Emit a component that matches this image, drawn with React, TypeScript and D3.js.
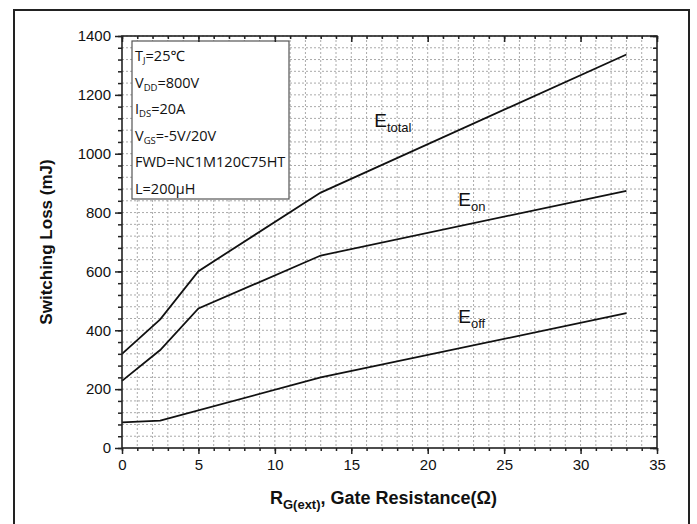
import { useEffect, useRef } from "react";
import * as d3 from "d3";

// gate resistance (ohm) and switching losses (mJ)
const rgTotal = [0, 2.5, 5, 13, 33];
const eTotal = [320, 437, 601, 868, 1337];
const rgOn = [0, 2.5, 5, 13, 33];
const eOn = [228, 333, 474, 654, 874];
const rgOff = [0, 2.5, 13, 33];
const eOff = [87, 93, 240, 458];

const xTicks = [0, 5, 10, 15, 20, 25, 30, 35];
const yTicks = [0, 200, 400, 600, 800, 1000, 1200, 1400];

// [main, subscript, rest]
const legendLines = [
  ["T", "J", "=25℃"],
  ["V", "DD", "=800V"],
  ["I", "DS", "=20A"],
  ["V", "GS", "=-5V/20V"],
  ["FWD=NC1M120C75HT", "", ""],
  ["L=200μH", "", ""],
];

const curveLabels = [
  { main: "E", sub: "total", x: 16.5, y: 1090 },
  { main: "E", sub: "on", x: 22, y: 822 },
  { main: "E", sub: "off", x: 22, y: 424 },
];

const App = () => {
  const svgRef = useRef<SVGSVGElement>(null);

  useEffect(() => {
    const width = 697;
    const height = 524;
    const margin = { top: 36, right: 40, bottom: 76, left: 122 };
    const w = width - margin.left - margin.right;
    const h = height - margin.top - margin.bottom;

    const root = d3.select(svgRef.current);
    root.selectAll("*").remove();
    root.attr("width", width).attr("height", height);

    root.append("rect").attr("width", width).attr("height", height).attr("fill", "white");

    // outer frame
    root
      .append("rect")
      .attr("x", 14)
      .attr("y", 10)
      .attr("width", 675)
      .attr("height", 530)
      .attr("fill", "none")
      .attr("stroke", "#222")
      .attr("stroke-width", 2);

    const svg = root.append("g").attr("transform", `translate(${margin.left},${margin.top})`);

    const x = d3.scaleLinear().domain([0, 35]).range([0, w]);
    const y = d3.scaleLinear().domain([0, 1400]).range([h, 0]);

    const xMinor = d3.range(0, 36, 1);
    const yMinor = d3.range(0, 1401, 40);

    // dotted grid
    svg
      .selectAll(".gx")
      .data(xMinor.slice(1, -1))
      .enter()
      .append("line")
      .attr("x1", d => x(d))
      .attr("x2", d => x(d))
      .attr("y1", 0)
      .attr("y2", h)
      .attr("stroke", "#aaa")
      .attr("stroke-width", 1)
      .attr("stroke-dasharray", "2,2");

    svg
      .selectAll(".gy")
      .data(yMinor.slice(1))
      .enter()
      .append("line")
      .attr("x1", 0)
      .attr("x2", w)
      .attr("y1", d => y(d))
      .attr("y2", d => y(d))
      .attr("stroke", "#aaa")
      .attr("stroke-width", 1)
      .attr("stroke-dasharray", "2,2");

    // curves
    const line = d3
      .line<[number, number]>()
      .x(d => x(d[0]))
      .y(d => y(d[1]));

    const series = [
      rgTotal.map((r, i) => [r, eTotal[i]] as [number, number]),
      rgOn.map((r, i) => [r, eOn[i]] as [number, number]),
      rgOff.map((r, i) => [r, eOff[i]] as [number, number]),
    ];

    svg
      .selectAll(".curve")
      .data(series)
      .enter()
      .append("path")
      .attr("d", d => line(d))
      .attr("fill", "none")
      .attr("stroke", "#111")
      .attr("stroke-width", 1.8);

    // curve labels
    curveLabels.forEach(l => {
      const t = svg
        .append("text")
        .attr("x", x(l.x))
        .attr("y", y(l.y))
        .style("font-family", "Liberation Sans, Arial, sans-serif")
        .style("font-size", "19px")
        .attr("fill", "#111");
      t.append("tspan").text(l.main);
      t.append("tspan").attr("dy", 5).style("font-size", "13px").text(l.sub);
    });

    // legend box
    const lg = svg.append("g");
    lg.append("rect")
      .attr("x", 132 - margin.left)
      .attr("y", 41 - margin.top)
      .attr("width", 157)
      .attr("height", 158)
      .attr("fill", "white")
      .attr("stroke", "#555")
      .attr("stroke-width", 1.2);

    legendLines.forEach((l, i) => {
      const t = lg
        .append("text")
        .attr("x", 135 - margin.left)
        .attr("y", 61 - margin.top + i * 26.6)
        .style("font-family", "Open Sans, Noto Sans, sans-serif")
        .style("font-size", "14.5px")
        .attr("fill", "#111");
      t.append("tspan").text(l[0]);
      if (l[1]) {
        t.append("tspan").attr("dy", 3).style("font-size", "9.5px").text(l[1]);
        t.append("tspan").attr("dy", -3).text(l[2]);
      }
    });

    // axes
    const axisStyle = (g: any) => {
      g.select(".domain").remove();
      g.selectAll("line").attr("stroke", "#222").attr("stroke-width", 1.5);
    };
    const labelStyle = (g: any) =>
      g
        .selectAll("text")
        .style("font-family", "Liberation Sans, Arial, sans-serif")
        .style("font-size", "15px")
        .attr("fill", "#111");

    svg
      .append("g")
      .attr("transform", `translate(0,${h})`)
      .call(d3.axisBottom(x).tickValues(xMinor).tickSize(3).tickFormat(() => ""))
      .call(axisStyle);
    svg
      .append("g")
      .attr("transform", `translate(0,${h})`)
      .call(d3.axisBottom(x).tickValues(xTicks).tickSize(6).tickPadding(5).tickFormat(d3.format("d")))
      .call(axisStyle)
      .call(labelStyle);

    svg
      .append("g")
      .call(d3.axisLeft(y).tickValues(yMinor).tickSize(4).tickFormat(() => ""))
      .call(axisStyle);
    svg
      .append("g")
      .call(d3.axisLeft(y).tickValues(yTicks).tickSize(7).tickPadding(4).tickFormat(d3.format("d")))
      .call(axisStyle)
      .call(labelStyle);

    // mirrored ticks pointing inward
    svg
      .append("g")
      .call(d3.axisBottom(x).tickValues(xMinor).tickSize(3).tickFormat(() => ""))
      .call(axisStyle);
    svg
      .append("g")
      .call(d3.axisBottom(x).tickValues(xTicks).tickSize(6).tickFormat(() => ""))
      .call(axisStyle);
    svg
      .append("g")
      .attr("transform", `translate(${w},0)`)
      .call(d3.axisLeft(y).tickValues(yMinor).tickSize(4).tickFormat(() => ""))
      .call(axisStyle);
    svg
      .append("g")
      .attr("transform", `translate(${w},0)`)
      .call(d3.axisLeft(y).tickValues(yTicks).tickSize(7).tickFormat(() => ""))
      .call(axisStyle);

    // plot frame
    svg
      .append("rect")
      .attr("width", w)
      .attr("height", h)
      .attr("fill", "none")
      .attr("stroke", "#222")
      .attr("stroke-width", 1.6);

    // axis titles
    const xt = svg
      .append("text")
      .attr("x", w / 2 - 6)
      .attr("y", h + 56)
      .attr("text-anchor", "middle")
      .style("font-family", "Liberation Sans, Arial, sans-serif")
      .style("font-size", "18px")
      .style("font-weight", "bold")
      .attr("fill", "#111");
    xt.append("tspan").text("R");
    xt.append("tspan").attr("dy", 5).style("font-size", "13px").text("G(ext)");
    xt.append("tspan").attr("dy", -5).text(", Gate Resistance(Ω)");

    svg
      .append("text")
      .attr("transform", `translate(${52 - margin.left},${h / 2}) rotate(-90)`)
      .attr("text-anchor", "middle")
      .style("font-family", "Liberation Sans, Arial, sans-serif")
      .style("font-size", "17px")
      .style("font-weight", "bold")
      .attr("fill", "#111")
      .text("Switching Loss (mJ)");
  }, []);

  return (
    <div style={{ position: "absolute", left: 0, top: 0 }}>
      <svg ref={svgRef}></svg>
    </div>
  );
};

export default App;
